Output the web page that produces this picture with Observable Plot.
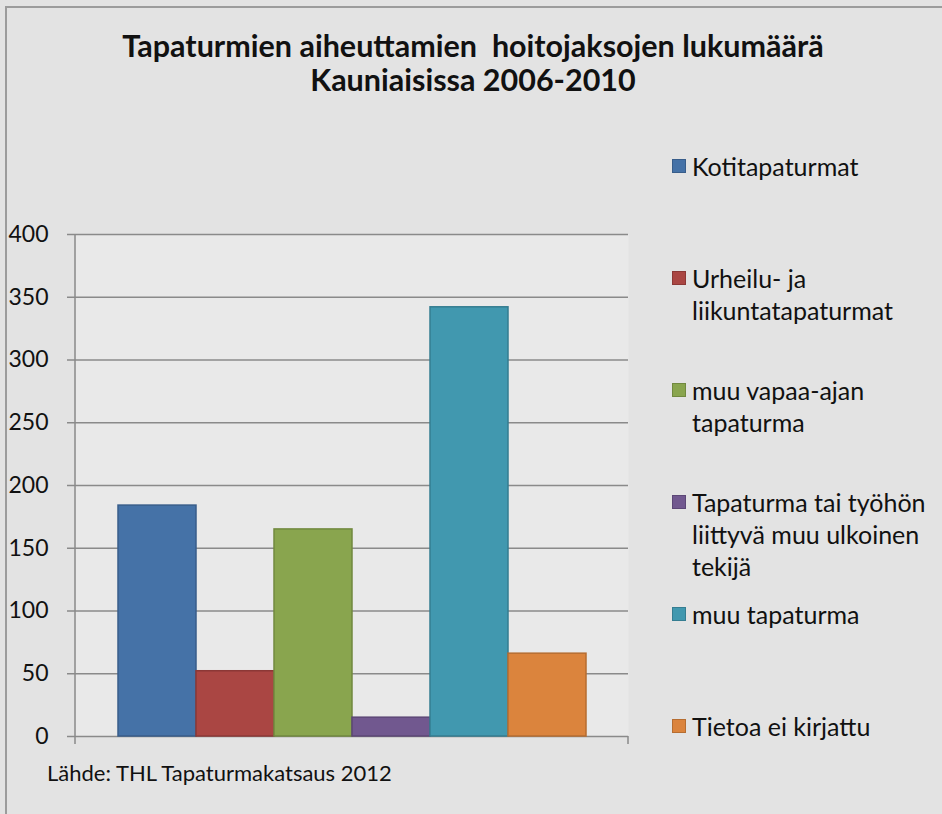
<!DOCTYPE html>
<html>
<head>
<meta charset="utf-8">
<script src="https://cdn.jsdelivr.net/npm/d3@7"></script>
<script src="https://cdn.jsdelivr.net/npm/@observablehq/plot@0.6"></script>
<style>
  html, body { margin: 0; padding: 0; overflow: hidden; background: #e3e3e3; }
  #chart { position: relative; width: 942px; height: 814px; background: #e3e3e3; font-family: Lato, "Open Sans", sans-serif; color: #111; }
  #border-left { position: absolute; left: 5px; top: 6px; width: 2px; height: 820px; background: #9c9c9c; }
  #border-top { position: absolute; left: 5px; top: 6px; width: 950px; height: 2px; background: #9c9c9c; }
  #title { position: absolute; left: 6px; width: 934px; top: 28px; text-align: center; font-weight: 700; font-size: 30.5px; line-height: 34px; }
  #plot { position: absolute; left: 0; top: 214px; }
  #legend { position: absolute; left: 672px; top: 150px; }
  .item { height: 112px; display: flex; align-items: flex-start; }
  .sw { width: 12px; height: 12px; border: 1.5px solid; margin-top: 9px; margin-right: 6px; flex: none; }
  .lab { font-size: 25px; line-height: 32px; white-space: nowrap; }
  #caption { position: absolute; left: 47px; top: 760px; font-size: 22px; line-height: 26px; }
</style>
</head>
<body>
<div id="chart">
  <div id="border-left"></div>
  <div id="border-top"></div>
  <div id="title"></div>
  <div id="plot"></div>
  <div id="legend"></div>
  <div id="caption"></div>
</div>
<script>
const titleLines = ["Tapaturmien aiheuttamien  hoitojaksojen lukumäärä", "Kauniaisissa 2006-2010"];
const caption = "Lähde: THL Tapaturmakatsaus 2012";
const categories = [
  "Kotitapaturmat",
  "Urheilu- ja liikuntatapaturmat",
  "muu vapaa-ajan tapaturma",
  "Tapaturma tai työhön liittyvä muu ulkoinen tekijä",
  "muu tapaturma",
  "Tietoa ei kirjattu"
];
const legendLines = [
  ["Kotitapaturmat"],
  ["Urheilu- ja", "liikuntatapaturmat"],
  ["muu vapaa-ajan", "tapaturma"],
  ["Tapaturma tai työhön", "liittyvä muu ulkoinen", "tekijä"],
  ["muu tapaturma"],
  ["Tietoa ei kirjattu"]
];
const values = [184, 52, 165, 15, 342, 66];
const fills = ["#4572a7", "#aa4643", "#89a54e", "#71588f", "#4198af", "#db843d"];
const strokes = ["#385d8a", "#8c3836", "#71893f", "#5c4776", "#357d91", "#b66d31"];
const yTicks = [0, 50, 100, 150, 200, 250, 300, 350, 400];

const data = categories.map((c, i) => ({cat: c, value: values[i], fill: fills[i], stroke: strokes[i]}));

document.getElementById("title").innerHTML = titleLines.map(t => t.replace(/  /g, " &nbsp;")).join("<br>");
document.getElementById("caption").textContent = caption;

const legend = document.getElementById("legend");
categories.forEach((c, i) => {
  const item = document.createElement("div");
  item.className = "item";
  const sw = document.createElement("div");
  sw.className = "sw";
  sw.style.background = fills[i];
  sw.style.borderColor = strokes[i];
  const lab = document.createElement("div");
  lab.className = "lab";
  lab.innerHTML = legendLines[i].join("<br>");
  item.appendChild(sw);
  item.appendChild(lab);
  legend.appendChild(item);
});

const axisGray = "#8a8a8a";

const chart = Plot.plot({
  width: 638,
  height: 552,
  marginLeft: 75,
  marginRight: 10,
  marginTop: 20,
  marginBottom: 30,
  style: {background: "transparent", fontFamily: "Lato, 'Open Sans', sans-serif", fontSize: "23px", color: "#111", overflow: "visible"},
  x: {domain: categories, padding: 0, insetLeft: 40, insetRight: 40, axis: null},
  y: {domain: [0, 400]},
  marks: [
    Plot.frame({fill: "#e9e9e9", stroke: null}),
    Plot.gridY(yTicks, {stroke: axisGray, strokeOpacity: 1, strokeWidth: 1.5}),
    Plot.axisY(yTicks, {tickSize: 8, tickPadding: 19, label: null, stroke: axisGray, strokeWidth: 1.5, fill: "#111", fontSize: 23}),
    Plot.barY(data, {x: "cat", y: "value", fill: "fill", stroke: "stroke", strokeWidth: 1.5}),
    (index, scales, values, dims) => {
      const g = d3.create("svg:g").attr("stroke", axisGray).attr("stroke-width", 1.5);
      const x0 = dims.marginLeft, x1 = dims.width - dims.marginRight;
      const yb = dims.height - dims.marginBottom, yt = dims.marginTop;
      g.append("line").attr("x1", x0).attr("x2", x0).attr("y1", yt).attr("y2", yb + 8);
      g.append("line").attr("x1", x1).attr("x2", x1).attr("y1", yb).attr("y2", yb + 8);
      return g.node();
    }
  ]
});
document.getElementById("plot").appendChild(chart);
</script>
</body>
</html>
